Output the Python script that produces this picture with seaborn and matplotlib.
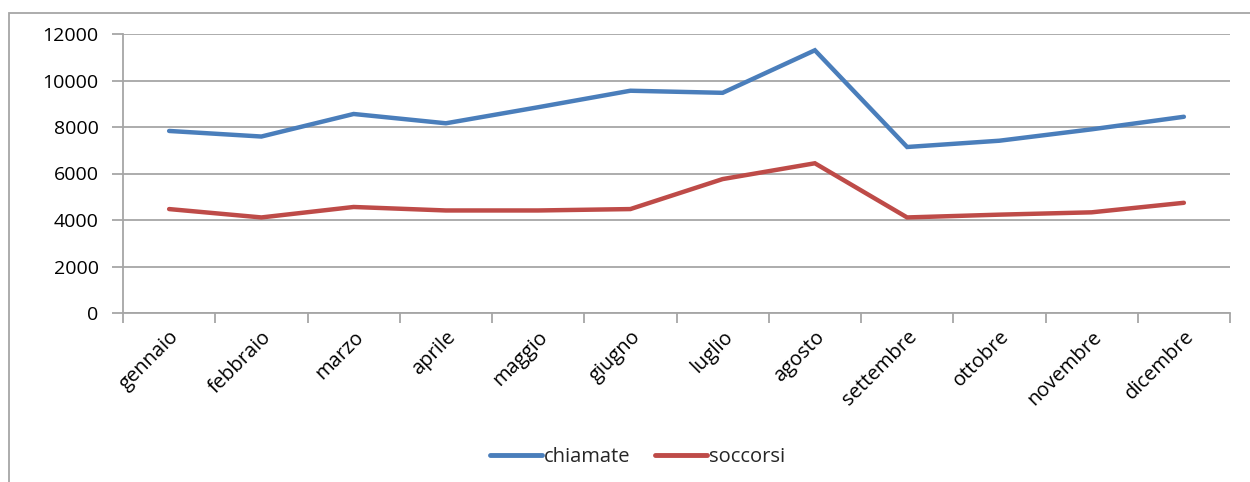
import matplotlib
matplotlib.use("Agg")
import matplotlib.pyplot as plt
import seaborn as sns
import pandas as pd
import numpy as np
from matplotlib.patches import Rectangle
from matplotlib.lines import Line2D

months = ["gennaio", "febbraio", "marzo", "aprile", "maggio", "giugno",
          "luglio", "agosto", "settembre", "ottobre", "novembre", "dicembre"]
chiamate = [7830, 7590, 8560, 8160, 8850, 9560, 9470, 11300, 7140, 7410, 7900, 8440]
soccorsi = [4470, 4110, 4560, 4410, 4410, 4470, 5760, 6440, 4110, 4230, 4330, 4740]
series_names = ["chiamate", "soccorsi"]
colors = ["#4A7EBB", "#BE4B48"]
yticks = [0, 2000, 4000, 6000, 8000, 10000, 12000]

df = pd.DataFrame({
    "mese": months * 2,
    "pos": list(range(len(months))) * 2,
    "valore": chiamate + soccorsi,
    "serie": [series_names[0]] * len(months) + [series_names[1]] * len(months),
})

sns.set_theme(style="white")
plt.rcParams["font.family"] = ["Open Sans", "DejaVu Sans"]

W, H = 1250, 482
fig = plt.figure(figsize=(W / 100, H / 100), dpi=100)
left, right, top, bottom = 123, 1230, 34, 313
ax = fig.add_axes([left / W, 1 - bottom / H, (right - left) / W, (bottom - top) / H])

sns.lineplot(data=df, x="pos", y="valore", hue="serie", palette=colors,
             linewidth=3.2, sort=False, ax=ax, legend=False,
             solid_capstyle="round", solid_joinstyle="miter")

ax.set_xlim(-0.5, len(months) - 0.5)
ax.set_ylim(0, 12000)
ax.set_yticks(yticks)
ax.set_yticklabels([str(v) for v in yticks], fontsize=14, color="#000000")
ax.yaxis.grid(True, color="#A6A6A6", linewidth=1.3)
ax.set_axisbelow(True)

ax.set_xticks(range(len(months)))
ax.set_xticklabels(months, rotation=45, ha="right", rotation_mode="anchor",
                   fontsize=14.5, color="#000000")
ax.set_xticks(np.arange(-0.5, len(months), 1.0), minor=True)
ax.tick_params(axis="x", which="major", length=0, pad=10)
ax.tick_params(axis="x", which="minor", length=7, width=1.3, color="#A6A6A6", bottom=True)
ax.tick_params(axis="y", which="major", length=8, width=1.3, color="#A6A6A6", left=True, pad=9.5)

for s in ["top", "right"]:
    ax.spines[s].set_visible(False)
for s in ["left", "bottom"]:
    ax.spines[s].set_color("#A6A6A6")
    ax.spines[s].set_linewidth(1.3)
ax.set_xlabel("")
ax.set_ylabel("")

# legend
handles = [Line2D([0], [0], color=c, linewidth=3.5) for c in colors]
fig.legend(handles, series_names, loc="center", bbox_to_anchor=(0.51, 1 - 457 / H),
           ncol=2, frameon=False, fontsize=14.5, handlelength=2.6, handletextpad=0.1,
           columnspacing=1.2)

# outer chart border
fig.patches.append(Rectangle((8.5 / W, -0.1), 1.2, 1 - 12.5 / H + 0.1,
                             transform=fig.transFigure, fill=False,
                             edgecolor="#A6A6A6", linewidth=1.3))

fig.savefig("out.png", dpi=100)
